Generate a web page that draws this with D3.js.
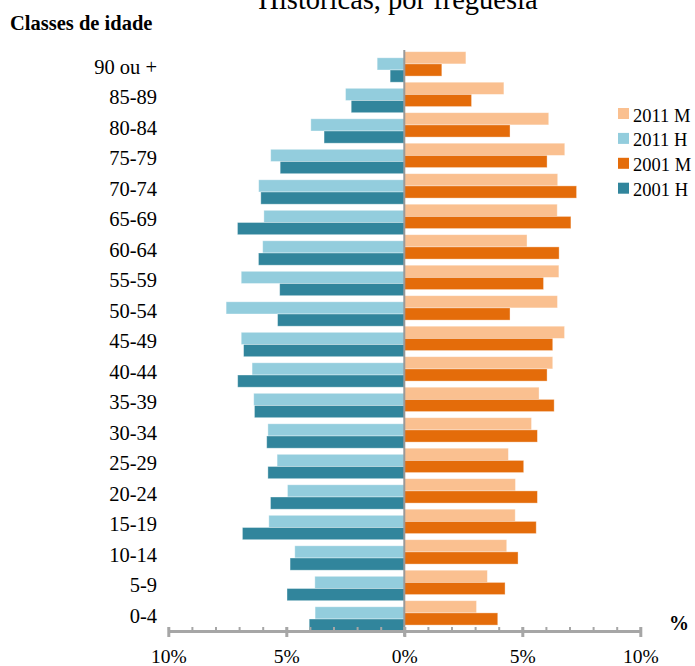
<!DOCTYPE html>
<html>
<head>
<meta charset="utf-8">
<script src="https://cdn.jsdelivr.net/npm/d3@7"></script>
<style>
  html, body { margin: 0; padding: 0; background: #fff; }
  svg { display: block; }
  text { font-family: "Liberation Serif", "Times New Roman", serif; fill: #000; }
</style>
</head>
<body>
<svg id="chart" width="695" height="666"></svg>
<script>
// Age classes, oldest at the top
const categories = ["90 ou +", "85-89", "80-84", "75-79", "70-74", "65-69", "60-64", "55-59",
  "50-54", "45-49", "40-44", "35-39", "30-34", "25-29", "20-24", "15-19", "10-14", "5-9", "0-4"];

// Share of each age class (%), women (M) and men (H)
const m2011 = [2.61, 4.22, 6.12, 6.80, 6.50, 6.48, 5.20, 6.55, 6.49, 6.79, 6.29, 5.71, 5.39, 4.41, 4.71, 4.70, 4.34, 3.52, 3.06];
const h2011 = [1.15, 2.49, 3.96, 5.66, 6.17, 5.95, 6.00, 6.91, 7.55, 6.91, 6.45, 6.38, 5.78, 5.39, 4.95, 5.74, 4.64, 3.79, 3.78];
const m2001 = [1.59, 2.85, 4.48, 6.05, 7.30, 7.06, 6.56, 5.90, 4.48, 6.29, 6.05, 6.35, 5.64, 5.06, 5.64, 5.59, 4.82, 4.27, 3.96];
const h2001 = [0.60, 2.25, 3.40, 5.26, 6.08, 7.07, 6.18, 5.28, 5.37, 6.81, 7.06, 6.35, 5.83, 5.78, 5.67, 6.86, 4.84, 4.97, 4.03];

const seriesNames = ["2011 M", "2011 H", "2001 M", "2001 H"];
const majorTicks = [-10, -5, 0, 5, 10];

// Series table: sign puts men on the left
const series = [
  { name: seriesNames[0], values: m2011, sign: 1, color: "#FAC090" },
  { name: seriesNames[1], values: h2011, sign: -1, color: "#93CDDD" },
  { name: seriesNames[2], values: m2001, sign: 1, color: "#E46C0A" },
  { name: seriesNames[3], values: h2001, sign: -1, color: "#31859C" }
];

const svg = d3.select("#chart");

const x = d3.scaleLinear().domain([-10, 10]).range([168.3, 640.3]);
const y = d3.scaleBand().domain(categories).range([51.7, 631.2]).padding(0);

// Four overlapping slots per class (50% overlap)
const step = y.bandwidth() / 5;
const barH = step * 2;

// Title (partly above the page edge)
svg.append("text")
  .attr("x", 398).attr("y", 8.5)
  .attr("text-anchor", "middle")
  .style("font-size", "28.5px")
  .text("Históricas, por freguesia");

svg.append("text")
  .attr("x", 10).attr("y", 30)
  .style("font-size", "20.5px").style("font-weight", "bold")
  .text("Classes de idade");

// Bars
series.forEach((s, si) => {
  svg.append("g").selectAll("rect")
    .data(s.values.map((v, i) => ({ cat: categories[i], v: v * s.sign })))
    .join("rect")
    .attr("x", d => Math.min(x(0), x(d.v)))
    .attr("width", d => Math.abs(x(d.v) - x(0)))
    .attr("y", d => y(d.cat) + si * step)
    .attr("height", barH)
    .attr("fill", s.color)
    .attr("stroke", "#ffffff")
    .attr("stroke-opacity", 0.45)
    .attr("stroke-width", 0.8);
});

// Vertical zero line
svg.append("line")
  .attr("x1", x(0)).attr("x2", x(0))
  .attr("y1", 50).attr("y2", 636)
  .attr("stroke", "#999999").attr("stroke-width", 2);

// Category labels
svg.append("g").selectAll("text")
  .data(categories)
  .join("text")
  .attr("x", 157)
  .attr("y", d => y(d) + y.bandwidth() / 2 + 7)
  .attr("text-anchor", "end")
  .style("font-size", "20.5px")
  .text(d => d);

// Horizontal axis
const axisY = 627;
const minorAxis = d3.axisBottom(x).tickValues(d3.range(-10, 11, 1)).tickSize(3).tickFormat("");
const majorAxis = d3.axisBottom(x).tickValues(majorTicks).tickSize(10)
  .tickFormat(d => Math.abs(d) + "%");

const gMinor = svg.append("g").attr("transform", `translate(0,${axisY})`).call(minorAxis);
gMinor.select(".domain").remove();
gMinor.selectAll("line").attr("stroke", "#A6A6A6").attr("stroke-width", 2);

svg.append("line")
  .attr("x1", x(-10)).attr("x2", x(10))
  .attr("y1", 631.5).attr("y2", 631.5)
  .attr("stroke", "#A6A6A6").attr("stroke-width", 3);

const gMajor = svg.append("g").attr("transform", `translate(0,${axisY})`).call(majorAxis);
gMajor.select(".domain").remove();
gMajor.selectAll("line").attr("stroke", "#A6A6A6").attr("stroke-width", 3);
gMajor.selectAll("text")
  .attr("y", 36).attr("dy", null)
  .style("font-size", "19.5px")
  .style("font-family", "'Liberation Serif', 'Times New Roman', serif")
  .attr("fill", "#000");

svg.append("text")
  .attr("x", 669).attr("y", 630)
  .style("font-size", "20px").style("font-weight", "bold")
  .text("%");

// Legend
const legend = svg.append("g").selectAll("g")
  .data(series)
  .join("g")
  .attr("transform", (d, i) => `translate(618,${108 + i * 24.9})`);
legend.append("rect")
  .attr("width", 11).attr("height", 11)
  .attr("fill", d => d.color);
legend.append("text")
  .attr("x", 15).attr("y", 13.5)
  .style("font-size", "18.5px")
  .text(d => d.name);
</script>
</body>
</html>
